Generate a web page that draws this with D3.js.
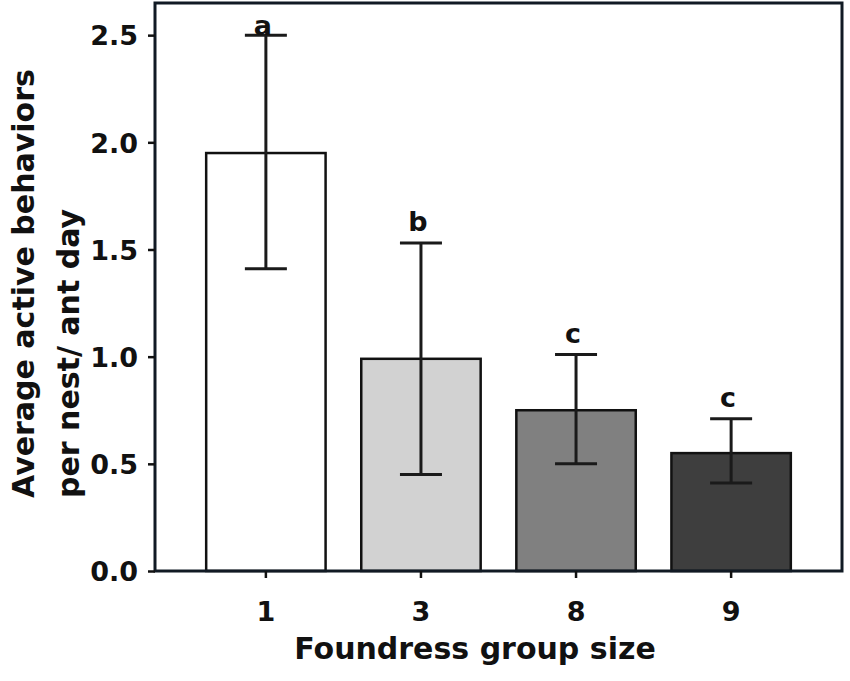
<!DOCTYPE html>
<meta charset="utf-8">
<style>
body { margin: 0; background: #fff; }
text { font-family: "DejaVu Sans", sans-serif; font-weight: bold; fill: #111; }
</style>
<script src="https://d3js.org/d3.v7.min.js"></script>
<body>
<div id="chart"></div>
<script>
// data
var groups = ["1", "3", "8", "9"];
var means = [1.95, 0.99, 0.75, 0.55];
var errLow = [1.41, 0.45, 0.50, 0.41];
var errHigh = [2.50, 1.53, 1.01, 0.71];
var letters = ["a", "b", "c", "c"];
var fills = ["#ffffff", "#d2d2d2", "#808080", "#3e3e3e"];
var yTicks = [0, 0.5, 1, 1.5, 2, 2.5];

var W = 850, H = 681;
var plotLeft = 155, plotRight = 842, plotTop = 3, plotBottom = 571;

var svg = d3.select("#chart").append("svg")
    .attr("width", W)
    .attr("height", H);

var x = d3.scaleBand()
    .domain(groups)
    .range([plotLeft, plotRight])
    .paddingInner(0.23)
    .paddingOuter(0.33);

var y = d3.scaleLinear()
    .domain([0, 2.65])
    .range([plotBottom, plotTop]);

// bars
svg.selectAll("rect.bar")
  .data(groups)
  .enter().append("rect")
    .attr("class", "bar")
    .attr("x", function(d) { return x(d); })
    .attr("y", function(d, i) { return y(means[i]); })
    .attr("width", x.bandwidth())
    .attr("height", function(d, i) { return y(0) - y(means[i]); })
    .attr("fill", function(d, i) { return fills[i]; })
    .attr("stroke", "#111")
    .attr("stroke-width", 2.5);

// error bars
var cap = 21;
var eb = svg.selectAll("g.err")
  .data(groups)
  .enter().append("g")
    .attr("class", "err")
    .attr("stroke", "#1a1a1a")
    .attr("stroke-width", 3);
eb.append("line")
    .attr("x1", function(d) { return x(d) + x.bandwidth() / 2; })
    .attr("x2", function(d) { return x(d) + x.bandwidth() / 2; })
    .attr("y1", function(d, i) { return y(errLow[i]); })
    .attr("y2", function(d, i) { return y(errHigh[i]); });
eb.append("line")
    .attr("x1", function(d) { return x(d) + x.bandwidth() / 2 - cap; })
    .attr("x2", function(d) { return x(d) + x.bandwidth() / 2 + cap; })
    .attr("y1", function(d, i) { return y(errHigh[i]); })
    .attr("y2", function(d, i) { return y(errHigh[i]); });
eb.append("line")
    .attr("x1", function(d) { return x(d) + x.bandwidth() / 2 - cap; })
    .attr("x2", function(d) { return x(d) + x.bandwidth() / 2 + cap; })
    .attr("y1", function(d, i) { return y(errLow[i]); })
    .attr("y2", function(d, i) { return y(errLow[i]); });

// significance letters
svg.selectAll("text.sig")
  .data(groups)
  .enter().append("text")
    .attr("class", "sig")
    .attr("x", function(d) { return x(d) + x.bandwidth() / 2 - 3; })
    .attr("y", function(d, i) { return Math.max(y(errHigh[i]) - 12, plotTop + 32); })
    .attr("text-anchor", "middle")
    .style("font-size", "27px")
    .text(function(d, i) { return letters[i]; });

// frame
svg.append("rect")
    .attr("x", plotLeft)
    .attr("y", plotTop)
    .attr("width", plotRight - plotLeft)
    .attr("height", plotBottom - plotTop)
    .attr("fill", "none")
    .attr("stroke", "#111a24")
    .attr("stroke-width", 3);

// y axis
var yAxis = svg.append("g")
    .attr("transform", "translate(" + plotLeft + ",0)")
    .call(d3.axisLeft(y).tickValues(yTicks).tickFormat(d3.format(".1f")).tickSize(7).tickPadding(10));
yAxis.select(".domain").remove();
yAxis.selectAll("line").attr("stroke", "#111").attr("stroke-width", 2.5);
yAxis.selectAll("text").style("font-size", "27px").attr("dy", "0.36em");

// x axis
var xAxis = svg.append("g")
    .attr("transform", "translate(0," + plotBottom + ")")
    .call(d3.axisBottom(x).tickSize(7).tickPadding(24));
xAxis.select(".domain").remove();
xAxis.selectAll("line").attr("stroke", "#111").attr("stroke-width", 2.5);
xAxis.selectAll("text").style("font-size", "27px").attr("dy", "0.71em");

// axis titles
svg.append("text")
    .attr("x", 475)
    .attr("y", 659)
    .attr("text-anchor", "middle")
    .style("font-size", "30px")
    .text("Foundress group size");

var yt = svg.append("text")
    .attr("transform", "translate(34,498) rotate(-90)")
    .style("font-size", "30px");
yt.append("tspan").attr("x", 0).attr("y", 0).text("Average active behaviors");
yt.append("tspan").attr("x", 0).attr("y", 45).text("per nest/ ant day");
</script>
</body>
